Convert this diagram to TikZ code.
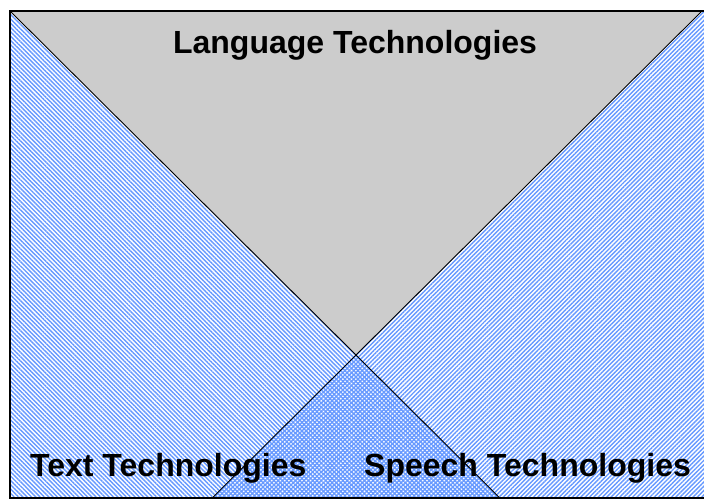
\documentclass[tikz,border=0pt]{standalone}
\usepackage{fontspec}
\setmainfont{Liberation Sans}
\usetikzlibrary{patterns.meta}
\definecolor{hatchblue}{RGB}{102,153,255}
\definecolor{topgray}{RGB}{204,204,204}
\begin{document}
\begin{tikzpicture}[x=1pt,y=1pt,
  lbl/.style={font=\fontsize{32}{38}\selectfont\bfseries, inner sep=0pt},
  hatchnw/.style={pattern={Lines[angle=-45,distance=3.05pt,line width=1.4pt]}, pattern color=hatchblue},
  hatchne/.style={pattern={Lines[angle=45,distance=3.05pt,line width=1.4pt]}, pattern color=hatchblue},
  diag/.style={draw=black, line width=0.9pt},
  frame/.style={draw=black, line width=1.3pt}]
\useasboundingbox (0,0) rectangle (704,500);
% corners
\coordinate (TL) at (10,489);
\coordinate (TR) at (702,489);
\coordinate (BL) at (10,2);
\coordinate (BR) at (706,2);
\coordinate (TRR) at (706,489);
\coordinate (P) at (356,145);
\coordinate (Q) at (212.2,2);
\coordinate (R) at (499.8,2);
% white background
\fill[white] (BL) rectangle (TRR);
% left (text) region
\fill[hatchnw] (TL) -- (R) -- (BL) -- cycle;
% right (speech) region
\fill[hatchne] (TR) -- (TRR) -- (BR) -- (Q) -- cycle;
% top gray triangle
\fill[topgray] (TL) -- (TRR) -- (TR) -- (P) -- cycle;
% diagonals
\draw[diag] (TL) -- (R);
\draw[diag] (TR) -- (Q);
% frame
\draw[frame] (TRR) -- (TL) -- (BL) -- (BR);
% labels
\node[lbl, anchor=base] (lang) at (355,446) {Language Technologies};
\node[lbl, anchor=base west] (text) at (30,23) {Text Technologies};
\node[lbl, anchor=base east] (speech) at (691,23) {Speech Technologies};
\end{tikzpicture}
\end{document}
